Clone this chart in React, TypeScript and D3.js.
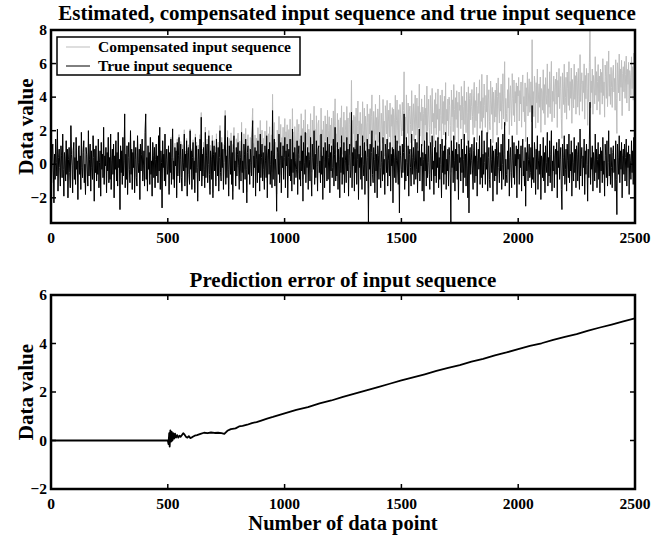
import React from "react";
import * as d3 from "d3";

const X_TICKS = [0, 500, 1000, 1500, 2000, 2500];
const TOP_Y_TICKS = [-2, 0, 2, 4, 6, 8];
const BOT_Y_TICKS = [-2, 0, 2, 4, 6];
const TOP_TITLE = "Estimated, compensated input sequence and true input sequence";
const BOT_TITLE = "Prediction error of input sequence";
const X_LABEL = "Number of data point";
const Y_LABEL = "Data value";
const LEGEND = ["Compensated input sequence", "True input sequence"];

// true input sequence (one value every 2.5 data points)
const TRUE_INPUT = [
  0.3,-1.1,0.8,1.2,-0.4,-2.3,0.6,-0.9,1.5,0.1,-0.7,2.1,-1.6,0.4,0.9,-0.2,-1.3,1.1,0.5,-0.8,
  1.8,-0.3,-1.9,0.7,0.2,-1.0,1.4,-0.6,0.9,-2.0,0.3,1.0,-0.5,-1.4,2.3,0.6,-0.1,-1.7,0.8,1.3,
  -0.9,0.4,-1.2,1.6,-0.3,0.2,-2.1,0.9,1.1,-0.6,0.5,-1.5,1.9,-0.2,-0.8,0.7,1.4,-1.1,0.0,-1.8,
  1.0,0.6,-0.4,-1.3,2.0,-0.7,0.3,1.2,-1.6,0.8,-0.2,-0.9,1.7,0.4,-2.2,0.9,-0.5,1.1,-1.0,0.2,
  -0.6,1.5,-1.4,0.1,0.8,-1.9,1.3,-0.3,0.6,-0.8,2.2,-1.2,0.5,-0.1,1.0,-1.7,0.7,-0.4,1.6,-1.1,
  0.4,-0.9,1.8,-1.5,0.2,0.9,-0.6,1.2,-2.0,0.5,-0.3,1.4,-1.0,0.7,-1.3,1.9,-0.2,0.3,-2.7,1.1,
  -0.5,0.8,-1.2,1.6,-0.7,0.2,3.0,-1.4,0.6,-0.9,1.1,-1.8,0.4,1.3,-0.3,-1.1,2.0,-0.6,0.9,-1.5,
  0.7,-0.2,1.4,-1.7,0.3,1.0,-0.8,-1.3,1.7,0.1,-0.5,0.9,-2.1,1.2,-0.4,0.6,1.5,-1.0,-0.1,0.8,
  -1.3,1.9,3.0,-0.9,0.4,-1.6,1.1,-0.3,0.7,-1.2,1.6,-0.6,0.2,-1.9,1.3,0.5,-0.8,1.0,-1.4,0.3,
  1.2,-0.7,0.5,-1.1,1.7,-0.4,2.2,-1.5,0.8,0.1,-2.6,1.4,-0.2,0.6,-1.0,1.8,-1.3,0.3,0.9,-0.6,
  -0.3,1.1,-1.8,0.7,-0.5,1.5,-1.2,0.4,2.1,-0.9,0.2,-1.4,1.0,-0.1,0.8,-2.0,1.3,-0.7,0.5,1.6,
  -1.1,0.3,1.2,-0.8,-1.6,0.9,0.1,-0.4,1.8,-1.3,0.6,-0.2,1.4,-1.9,0.7,1.0,-0.6,-1.2,2.0,-0.3,
  0.8,-1.5,0.4,1.3,-0.9,0.2,-1.7,1.6,-0.5,1.1,-0.2,-2.2,0.9,0.3,-1.0,1.5,-0.4,2.8,-1.3,0.6,
  -0.7,1.0,-0.3,-1.4,1.9,-0.8,0.5,1.2,-1.1,0.0,1.7,-0.6,-1.8,0.8,0.3,-0.9,1.4,-2.0,0.6,1.1,
  -0.4,0.7,-1.3,1.5,0.2,-0.7,1.0,-1.6,0.4,2.0,-0.5,-1.0,1.3,-0.2,0.9,-1.5,0.1,1.2,2.9,-1.2,
  0.5,-0.8,1.6,-0.3,-1.9,1.1,0.3,-0.6,1.4,-1.2,0.7,-2.1,0.9,1.7,-0.4,0.2,-1.3,1.0,-0.7,0.6,
  1.3,-0.1,-1.5,0.8,0.4,-1.0,1.9,-0.5,0.2,-1.7,1.2,0.6,-0.9,1.5,-0.3,-2.3,0.7,1.1,-0.6,0.3,
  -1.2,0.9,0.1,-0.7,1.6,2.6,-1.4,0.5,-0.2,1.0,-1.9,0.8,0.3,-1.1,1.4,-0.5,0.6,-1.6,1.8,-0.8,
  0.4,1.2,-1.0,0.7,-0.3,-1.5,1.1,0.2,-0.8,1.7,-2.0,0.5,0.9,-0.6,1.3,-1.2,0.0,0.8,-1.4,3.2,
  -0.9,0.6,1.5,-1.3,0.3,-0.4,-2.8,1.0,0.7,-0.6,1.8,-1.1,0.2,1.3,-1.7,0.5,-0.2,1.1,-0.9,0.4,
  1.6,-1.4,0.8,-0.1,1.2,-2.0,0.4,0.9,-0.7,1.5,-1.0,0.3,-1.6,2.1,-0.5,0.7,-1.2,1.0,0.2,-0.8,
  -0.3,1.4,-1.8,0.6,1.1,-0.9,0.2,-1.3,1.7,-0.4,0.8,-2.2,1.3,0.1,-0.6,1.9,-1.1,0.5,-0.2,1.0,
  -1.5,0.7,0.3,-1.0,1.6,-0.7,-1.9,1.2,0.4,-0.3,2.0,-1.2,0.6,-0.8,1.4,0.0,-1.6,0.9,1.1,-0.5,
  0.2,-1.1,1.8,-0.6,0.5,-2.1,1.0,0.3,-1.4,1.3,-0.2,0.8,-1.0,1.6,-0.9,0.4,1.2,-1.7,0.7,-0.4,
  1.1,-0.8,-0.2,1.5,-1.3,0.6,2.2,-1.0,0.1,-0.7,1.3,-1.5,0.9,0.3,-2.0,1.0,-0.5,1.7,-1.2,0.4,
  -0.6,1.3,-1.7,0.8,0.2,-1.1,1.6,-0.4,0.9,-1.9,0.5,1.2,-0.8,-0.3,3.1,-1.4,0.7,-0.1,1.0,-1.6,
  0.9,-0.5,1.4,-1.2,0.3,1.8,-2.1,0.6,-0.2,1.1,-0.9,0.4,-1.5,1.7,0.0,-0.7,1.3,-1.8,0.8,0.2,
  -1.0,1.5,0.4,-3.5,0.9,-0.3,1.2,-1.3,0.7,2.0,-0.6,-1.1,1.0,0.3,-1.7,1.4,-0.4,0.6,-2.0,1.1,
  0.5,-0.9,1.9,-0.2,-1.4,0.8,0.1,-1.0,1.6,-0.6,0.3,-1.8,1.2,0.7,-0.5,1.5,-1.3,0.2,0.9,-0.7,
  1.3,-1.6,0.6,-0.1,1.0,-2.3,0.9,0.4,-0.8,1.7,-1.1,0.2,1.4,-0.4,-1.2,0.8,-2.9,1.1,0.5,-0.3,
  -0.8,1.2,-0.5,0.7,3.0,-1.5,0.3,-1.0,1.6,0.1,-0.7,1.1,-1.9,0.6,0.9,-0.2,-1.3,1.8,-0.6,0.4,
  1.0,-1.2,0.2,1.5,-0.9,-0.3,1.3,-1.7,0.8,-0.5,2.1,-1.0,0.4,-0.1,1.2,-1.6,0.7,0.3,-2.2,1.4,
  -0.4,0.6,-1.3,1.9,-0.8,0.1,1.1,-0.6,-1.5,1.3,0.5,-1.0,1.7,-0.3,0.2,-1.8,1.0,-0.7,1.4,-1.1,
  0.7,-0.2,1.6,-1.4,0.4,-0.9,1.2,0.0,-2.0,1.5,-0.5,0.8,-1.2,1.1,-0.6,1.9,-1.5,0.3,-0.4,0.9,
  -1.3,1.0,0.5,-0.7,-3.5,1.4,-0.2,0.8,-1.1,1.7,0.2,-1.6,0.9,-0.4,1.3,-0.9,0.6,-2.1,1.2,0.1,
  0.4,-1.0,1.5,-0.5,0.9,-1.7,0.3,1.8,-0.8,0.6,-1.3,1.1,-0.1,-2.0,1.4,-2.9,0.7,1.0,-0.6,0.2,
  1.2,-0.4,-1.5,0.8,1.6,-1.1,0.5,-0.7,1.3,-1.9,0.2,0.9,-0.3,1.7,-1.2,0.4,-0.8,2.0,-1.4,0.6,
  -0.6,1.4,0.1,-1.2,0.7,-0.3,1.9,-1.6,0.4,1.0,-0.9,-1.4,1.5,0.3,-0.5,1.1,-2.2,0.8,0.2,-1.0,
  0.9,-0.7,1.3,-1.8,0.5,1.6,-0.2,-1.1,0.7,-0.4,1.2,-1.5,0.0,1.8,-0.9,0.6,2.5,-1.3,0.3,-0.6,
  -1.1,0.8,-0.3,1.5,-1.9,0.4,1.0,-0.5,-1.4,1.7,0.2,-0.8,1.3,-1.2,0.6,-0.1,1.1,-2.0,0.9,0.3,
  1.4,-1.2,0.6,-0.2,1.1,-1.6,0.8,1.5,-0.7,0.2,-1.3,1.0,-2.5,0.7,-0.4,1.6,-1.0,0.3,1.2,-0.8,
  -0.5,1.0,-1.4,3.5,-0.9,0.4,-1.1,1.3,0.6,-1.8,0.9,-0.3,1.7,-1.5,0.2,0.8,-0.6,1.2,-2.1,0.5,
  0.3,-0.8,1.6,-1.0,0.7,-1.7,1.1,0.1,-0.5,1.9,-1.3,0.4,-0.7,1.4,-1.1,0.6,2.0,-1.6,0.2,-0.4,
  1.1,-1.4,0.5,0.9,-0.6,1.3,-2.0,0.8,-0.2,1.5,-0.9,0.3,1.0,-1.5,-2.7,1.2,0.4,-0.7,1.7,-1.2,
  -0.3,0.9,-1.6,1.2,0.2,-0.8,1.8,-1.1,0.6,-0.4,1.4,-1.9,0.7,0.1,-1.0,1.6,-0.5,0.9,-1.4,1.1,
  0.6,-1.0,1.3,-0.4,-1.5,2.1,-0.7,0.3,1.0,-1.3,0.5,-0.2,1.5,-1.8,0.8,-0.6,1.2,0.0,-2.2,0.9,
  -0.8,1.5,3.7,-1.2,0.4,-0.3,1.1,-1.6,0.7,0.2,-1.0,1.8,-0.5,0.9,-1.4,0.3,1.3,-0.9,0.6,-1.7,
  1.0,-0.4,0.8,-1.1,1.6,-0.6,0.2,-1.9,1.2,0.5,-0.8,1.4,-1.3,0.1,2.0,-0.7,0.6,-1.2,1.0,-0.2,
  -1.4,0.7,1.1,-0.5,0.3,-1.6,1.4,-0.9,-3.0,1.2,0.4,-0.6,1.7,-1.1,0.8,-0.3,1.3,-2.0,0.5,0.9,
  -0.6,1.2,-1.0,0.4,1.5,-1.3,0.7,-0.2,1.1,-1.8,0.6,0.2,-0.9,1.4,-0.5,0.8,-1.2,1.6,-0.3,-1.8,
];

// prediction error of input sequence (data point, value)
const ERROR_X = [
  0, 500, 503, 506, 508, 511, 514, 517, 520, 523, 527, 531, 535, 540, 545, 550, 555, 560, 566, 572,
  578, 584, 590, 596, 605, 615, 625, 640, 655, 670, 685, 700, 715, 730, 742, 755, 770, 790, 805, 820,
  840, 860, 880, 900, 925, 950, 975, 1000, 1050, 1100, 1150, 1200, 1250, 1300, 1350, 1400, 1450, 1500,
  1550, 1600, 1650, 1700, 1750, 1800, 1850, 1900, 1950, 2000, 2050, 2100, 2150, 2200, 2250, 2300,
  2350, 2400, 2450, 2500,
];
const ERROR_Y = [
  0, 0, -0.15, 0.3, -0.25, 0.42, -0.05, 0.35, 0.0, 0.3, 0.08, 0.28, 0.12, 0.22, 0.12, 0.2, 0.15, 0.22, 0.3, 0.24,
  0.15, 0.12, 0.18, 0.1, 0.14, 0.2, 0.22, 0.27, 0.32, 0.3, 0.33, 0.31, 0.32, 0.3, 0.27, 0.4, 0.47, 0.5, 0.58, 0.6,
  0.65, 0.72, 0.76, 0.82, 0.9, 0.97, 1.05, 1.12, 1.26, 1.38, 1.53, 1.65, 1.8, 1.93, 2.07, 2.2, 2.34, 2.48,
  2.6, 2.73, 2.87, 2.99, 3.11, 3.25, 3.37, 3.51, 3.63, 3.77, 3.9, 4.01, 4.15, 4.27, 4.39, 4.53,
  4.66, 4.78, 4.91, 5.04,
];

const W = 662;
const H = 537;
const LEFT = 51;
const RIGHT = 635;
const TOP1 = 30;
const BOT1 = 223;
const TOP2 = 295;
const BOT2 = 489;
const FONT = "'Liberation Serif', 'Times New Roman', Times, serif";

const fmt = (v: number) => (v < 0 ? "\u2212" + Math.abs(v) : String(v));

export default function App() {
  const x = d3.scaleLinear().domain([0, 2500]).range([LEFT, RIGHT]);
  const y1 = d3.scaleLinear().domain([-3.5, 8]).range([BOT1, TOP1]);
  const y2 = d3.scaleLinear().domain([-2, 6]).range([BOT2, TOP2]);

  const n = TRUE_INPUT.length;
  const xs = TRUE_INPUT.map((_, i) => (i * 2500) / (n - 1));
  const errAt = d3.scaleLinear().domain(ERROR_X).range(ERROR_Y);
  const trueData = TRUE_INPUT.map((v, i) => [xs[i], v] as [number, number]);
  const compData = TRUE_INPUT.map((v, i) => [xs[i], v + errAt(xs[i])] as [number, number]);
  const errData = ERROR_X.map((v, i) => [v, ERROR_Y[i]] as [number, number]);

  const line1 = d3.line<[number, number]>().x((d) => x(d[0])).y((d) => y1(d[1]));
  const line2 = d3.line<[number, number]>().x((d) => x(d[0])).y((d) => y2(d[1]));

  const tickLen = 5;

  const axes = (top: number, bot: number, yScale: d3.ScaleLinear<number, number>, yTicks: number[]) => (
    <g>
      {X_TICKS.map((t) => (
        <g key={"x" + t}>
          <line x1={x(t)} x2={x(t)} y1={bot} y2={bot - tickLen} stroke="#000" strokeWidth={1.5} />
          <line x1={x(t)} x2={x(t)} y1={top} y2={top + tickLen} stroke="#000" strokeWidth={1.5} />
          <text x={x(t)} y={bot + 20} textAnchor="middle" fontSize={15.5} fontWeight="bold" fontFamily={FONT}>
            {t}
          </text>
        </g>
      ))}
      {yTicks.map((t) => (
        <g key={"y" + t}>
          <line x1={LEFT} x2={LEFT + tickLen} y1={yScale(t)} y2={yScale(t)} stroke="#000" strokeWidth={1.5} />
          <line x1={RIGHT} x2={RIGHT - tickLen} y1={yScale(t)} y2={yScale(t)} stroke="#000" strokeWidth={1.5} />
          <text x={LEFT - 4} y={yScale(t) + 5} textAnchor="end" fontSize={15.5} fontWeight="bold" fontFamily={FONT}>
            {fmt(t)}
          </text>
        </g>
      ))}
      <rect x={LEFT} y={top} width={RIGHT - LEFT} height={bot - top} fill="none" stroke="#000" strokeWidth={2.5} />
    </g>
  );

  return (
    <svg
      width={W}
      height={H}
      style={{ position: "absolute", left: 0, top: 0, background: "#fff" }}
      fontFamily={FONT}
    >
      <defs>
        <clipPath id="clip1">
          <rect x={LEFT} y={TOP1} width={RIGHT - LEFT} height={BOT1 - TOP1} />
        </clipPath>
        <clipPath id="clip2">
          <rect x={LEFT} y={TOP2} width={RIGHT - LEFT} height={BOT2 - TOP2} />
        </clipPath>
      </defs>
      <rect x={0} y={0} width={W} height={H} fill="#fff" />

      {/* top panel */}
      <text x={347} y={20} textAnchor="middle" fontSize={21} fontWeight="bold">
        {TOP_TITLE}
      </text>
      <g clipPath="url(#clip1)">
        <path d={line1(compData) || ""} fill="none" stroke="#bdbdbd" strokeWidth={1} />
        <path d={line1(trueData) || ""} fill="none" stroke="#000" strokeWidth={1} />
      </g>
      {axes(TOP1, BOT1, y1, TOP_Y_TICKS)}
      <text
        transform={`translate(33, ${(TOP1 + BOT1) / 2}) rotate(-90)`}
        textAnchor="middle"
        fontSize={21}
        fontWeight="bold"
      >
        {Y_LABEL}
      </text>

      {/* legend */}
      <g>
        <rect x={57} y={37} width={243} height={38} fill="#fff" stroke="#000" strokeWidth={1.5} />
        <line x1={66} x2={90} y1={47} y2={47} stroke="#bdbdbd" strokeWidth={1} />
        <line x1={66} x2={90} y1={66} y2={66} stroke="#000" strokeWidth={1} />
        <text x={98} y={52} fontSize={15.5} fontWeight="bold">{LEGEND[0]}</text>
        <text x={98} y={71} fontSize={15.5} fontWeight="bold">{LEGEND[1]}</text>
      </g>

      {/* bottom panel */}
      <text x={(LEFT + RIGHT) / 2} y={287} textAnchor="middle" fontSize={21} fontWeight="bold">
        {BOT_TITLE}
      </text>
      <g clipPath="url(#clip2)">
        <path d={line2(errData) || ""} fill="none" stroke="#000" strokeWidth={1.8} strokeLinejoin="round" />
      </g>
      {axes(TOP2, BOT2, y2, BOT_Y_TICKS)}
      <text
        transform={`translate(33, ${(TOP2 + BOT2) / 2}) rotate(-90)`}
        textAnchor="middle"
        fontSize={21}
        fontWeight="bold"
      >
        {Y_LABEL}
      </text>
      <text x={(LEFT + RIGHT) / 2} y={530} textAnchor="middle" fontSize={20.5} fontWeight="bold">
        {X_LABEL}
      </text>
    </svg>
  );
}
